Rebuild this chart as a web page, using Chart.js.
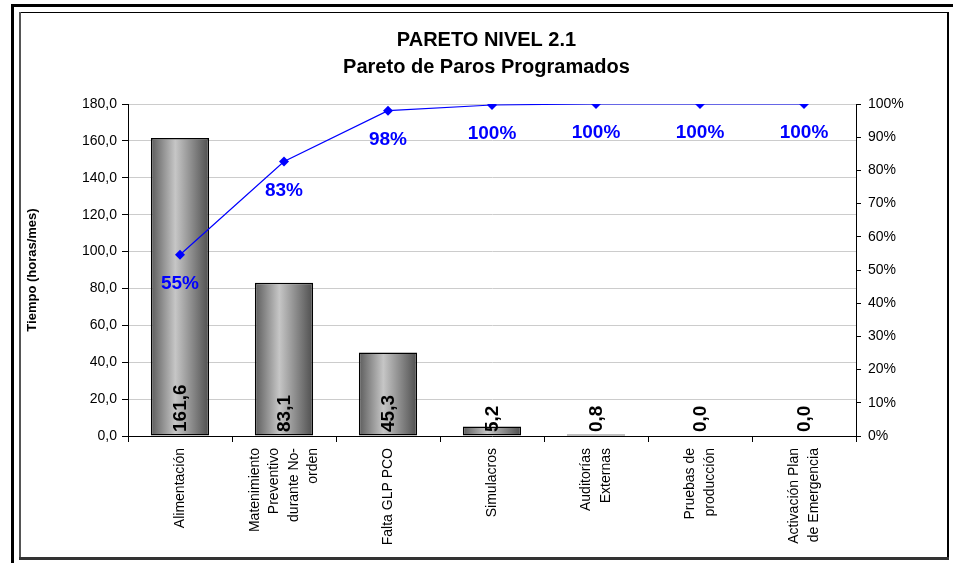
<!DOCTYPE html>
<html>
<head>
<meta charset="utf-8">
<script src="https://cdn.jsdelivr.net/npm/chart.js@4.4.1/dist/chart.umd.min.js"></script>
<style>
  html, body { margin: 0; padding: 0; background: #fff; }
  #wrap { position: relative; width: 953px; height: 563px; overflow: hidden; }
  #wrap canvas { position: absolute; left: 0; top: 0; }
  .ln { position: absolute; }
</style>
</head>
<body>
<div id="wrap">
  <!-- frame lines -->
  <div class="ln" style="left:11px;top:4px;width:942px;height:3px;background:#000"></div>
  <div class="ln" style="left:11px;top:4px;width:3px;height:559px;background:#000"></div>
  <div class="ln" style="left:19px;top:12px;width:929px;height:1px;background:#000"></div>
  <div class="ln" style="left:19px;top:12px;width:2px;height:547px;background:#555"></div>
  <div class="ln" style="left:947px;top:12px;width:2px;height:548px;background:#000"></div>
  <div class="ln" style="left:19px;top:557px;width:930px;height:3px;background:#333"></div>
  <canvas id="chart" width="953" height="563"></canvas>
</div>
<script>
// Data
const categories = [
    "Alimentación",
    ["Matenimiento", "Preventivo", "durante No-", "orden"],
    "Falta GLP PCO",
    "Simulacros",
    ["Auditorías", "Externas"],
    ["Pruebas de", "producción"],
    ["Activación Plan", "de Emergencia"]
];
const hours = [161.6, 83.1, 45.3, 5.2, 0.8, 0.0, 0.0];
const cumulativePct = [54.6, 82.7, 98.0, 99.7, 100, 100, 100];
const titleLines = ["PARETO NIVEL 2.1", "Pareto de Paros Programados"];
const yTitle = "Tiempo (horas/mes)";
const hoursMax = 180, hoursStep = 20;
const pctMax = 100, pctStep = 10;

const FONT = "Arial, 'Liberation Sans', sans-serif";
const BAR_PCT = 0.56;

Chart.defaults.font.family = FONT;
Chart.defaults.color = "#000";

const fmtComma = v => v.toFixed(1).replace(".", ",");

// gray cylinder-like gradient for each bar
function barGradient(ctx) {
    const chart = ctx.chart;
    const area = chart.chartArea;
    if (!area || !chart.scales.x) return "#999";
    const cx = chart.scales.x.getPixelForValue(ctx.dataIndex);
    const half = (area.right - area.left) / categories.length * BAR_PCT / 2;
    const g = chart.ctx.createLinearGradient(cx - half, 0, cx + half, 0);
    g.addColorStop(0, "#5c5c5c");
    g.addColorStop(0.42, "#c6c6c6");
    g.addColorStop(1, "#4e4e4e");
    return g;
}

// value labels, percent labels and rotated category labels
const labelPlugin = {
    id: "labels",
    afterDatasetsDraw(chart) {
        const c = chart.ctx;
        const yScale = chart.scales.y;
        const xScale = chart.scales.x;

        // bar values, rotated, starting at the base
        c.save();
        c.font = "bold 19px " + FONT;
        c.fillStyle = "#000";
        c.textAlign = "left";
        c.textBaseline = "middle";
        chart.getDatasetMeta(0).data.forEach((el, i) => {
            c.save();
            c.translate(el.x + 1, yScale.bottom - 4);
            c.rotate(-Math.PI / 2);
            c.fillText(fmtComma(hours[i]), 0, 0);
            c.restore();
        });
        c.restore();

        // cumulative percentages below each point
        c.save();
        c.font = "bold 19px " + FONT;
        c.fillStyle = "#0000ff";
        c.textAlign = "center";
        c.textBaseline = "middle";
        chart.getDatasetMeta(1).data.forEach((el, i) => {
            c.fillText(Math.round(cumulativePct[i]) + "%", el.x, el.y + 29);
        });
        c.restore();

        // category labels, rotated, multi-line centred on tick
        c.save();
        c.font = "14px " + FONT;
        c.fillStyle = "#000";
        c.textAlign = "right";
        c.textBaseline = "middle";
        const lh = 19.5;
        categories.forEach((lab, i) => {
            const lines = Array.isArray(lab) ? lab : [lab];
            const x = xScale.getPixelForValue(i);
            c.save();
            c.translate(x, xScale.top + 12);
            c.rotate(-Math.PI / 2);
            lines.forEach((t, j) => {
                c.fillText(t, 0, (j - (lines.length - 1) / 2) * lh);
            });
            c.restore();
        });
        c.restore();
    }
};

new Chart(document.getElementById("chart"), {
    data: {
        labels: categories,
        datasets: [
            {
                type: "bar",
                data: hours,
                yAxisID: "y",
                backgroundColor: barGradient,
                borderColor: "#000",
                borderWidth: 1.5,
                borderSkipped: false,
                barPercentage: BAR_PCT,
                categoryPercentage: 1,
                order: 1
            },
            {
                type: "line",
                data: cumulativePct,
                yAxisID: "y1",
                borderColor: "#0000ff",
                borderWidth: 1.2,
                backgroundColor: "#0000ff",
                pointStyle: "rectRot",
                pointRadius: 5,
                pointBorderWidth: 0,
                tension: 0,
                order: 0
            }
        ]
    },
    options: {
        responsive: false,
        devicePixelRatio: 1,
        animation: false,
        layout: { padding: { left: 20, right: 0, top: 12, bottom: 5 } },
        plugins: {
            legend: { display: false },
            tooltip: { enabled: false },
            title: {
                display: true,
                text: titleLines,
                font: { size: 20, weight: "bold", lineHeight: 1.35 },
                color: "#000",
                padding: { top: 14.5, bottom: 23.5 }
            }
        },
        scales: {
            x: {
                ticks: { display: false },
                grid: {
                    offset: true,
                    drawOnChartArea: false,
                    drawTicks: true,
                    tickLength: 6,
                    color: "#000"
                },
                border: { color: "#000", width: 1 },
                afterFit: s => { s.height = 122; }
            },
            y: {
                position: "left",
                min: 0,
                max: hoursMax,
                ticks: {
                    stepSize: hoursStep,
                    font: { size: 14 },
                    padding: 5,
                    callback: v => fmtComma(v)
                },
                grid: { color: "#cccccc", tickColor: "#000", tickLength: 6 },
                border: { color: "#000", width: 1 },
                title: {
                    display: true,
                    text: yTitle,
                    font: { size: 13, weight: "bold" },
                    padding: { top: 5, bottom: 0 }
                },
                afterFit: s => { s.width = 108; }
            },
            y1: {
                position: "right",
                min: 0,
                max: pctMax,
                ticks: {
                    stepSize: pctStep,
                    font: { size: 14 },
                    padding: 7,
                    callback: v => v + "%"
                },
                grid: { drawOnChartArea: false, tickColor: "#000", tickLength: 5 },
                border: { color: "#000", width: 1 },
                afterFit: s => { s.width = 97; }
            }
        }
    },
    plugins: [labelPlugin]
});
</script>
</body>
</html>
